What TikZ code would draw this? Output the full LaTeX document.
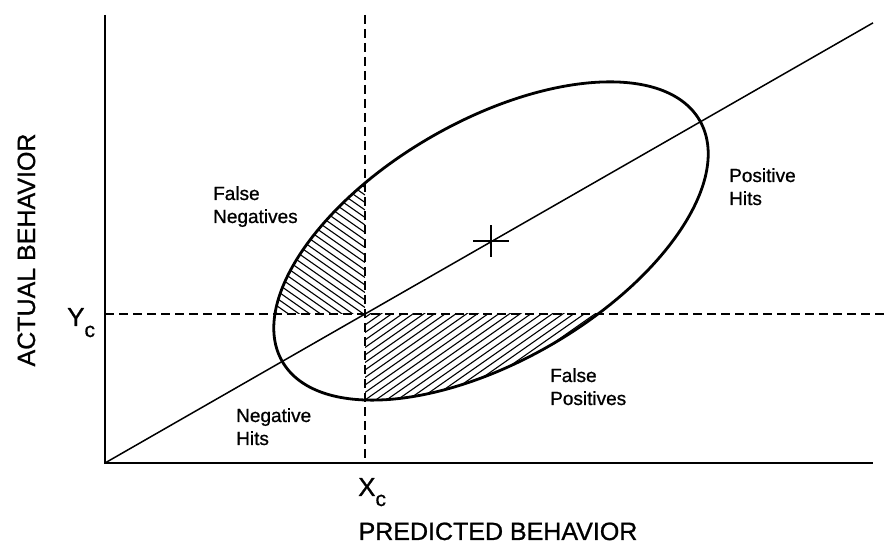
\documentclass[tikz,border=0pt]{standalone}
\usepackage{fontspec}
\setmainfont{Liberation Sans}[FakeBold=0.5]
\newfontfamily\heavysans{Liberation Sans}[FakeBold=0.9]
\usetikzlibrary{calc}
\begin{document}
\begin{tikzpicture}[x=1pt,y=1pt,
  axis/.style={line width=2.3pt},
  cutline/.style={line width=1.7pt, dash pattern=on 9pt off 5pt},
  diag/.style={line width=1.5pt},
  region/.style={line width=2.8pt},
  hatch/.style={line width=1.1pt},
  lbl/.style={inner sep=0pt, anchor=base west, font=\heavysans\fontsize{19}{23}\selectfont},
  axlbl/.style={inner sep=0pt, font=\heavysans\fontsize{25}{25}\selectfont},
  cut/.style={inner sep=0pt, anchor=base west, font=\heavysans\fontsize{26}{26}\selectfont}]
\useasboundingbox (0,0) rectangle (886,545);

% axes and cut-off points
\coordinate (O) at (105,82);
\coordinate (Ytop) at (105,530);
\coordinate (Xend) at (873,82);
\coordinate (C) at (365,231);
\coordinate (Xtop) at (365,530);
\coordinate (Xbot) at (365,82);
\coordinate (Yleft) at (105,231);
\coordinate (Yright) at (886,231);
\coordinate (M) at (491,304);

% hatched areas: false negatives and false positives
\begin{scope}
  \clip[rotate around={30:(M)}] (M) ellipse [x radius=241, y radius=120];
  \clip (200,231) rectangle (365,420);
  \foreach \c in {140,147.5,...,400} {
    \draw[hatch] (200,\c+115.5) -- (365,\c);
  }
\end{scope}
\begin{scope}
  \clip[rotate around={30:(M)}] (M) ellipse [x radius=241, y radius=120];
  \clip (365,100) rectangle (700,231);
  \foreach \c in {40,47.5,...,240} {
    \draw[hatch] (365,\c) -- (700,\c+234.6);
  }
\end{scope}

\draw[axis] (Ytop) -- (O) -- (Xend);
\draw[cutline] (Xtop) -- (Xbot);
\draw[cutline] (Yleft) -- (Yright);
\draw[diag] (O) -- ($(O)!2.954!(C)$);
\draw[region, rotate around={30:(M)}] (M) ellipse [x radius=241, y radius=120];

% centroid mark
\draw[line width=1.8pt] ($(M)+(-18,0)$) -- ($(M)+(18,0)$);
\draw[line width=1.8pt] ($(M)+(0,-16)$) -- ($(M)+(0,16)$);

% quadrant labels
\node[lbl] (fn) at (213,345) {\begin{tabular}[t]{@{}l@{}}False\\Negatives\end{tabular}};
\node[lbl] (ph) at (729,363) {\begin{tabular}[t]{@{}l@{}}Positive\\Hits\end{tabular}};
\node[lbl] (nh) at (236,123) {\begin{tabular}[t]{@{}l@{}}Negative\\Hits\end{tabular}};
\node[lbl] (fp) at (550,163) {\begin{tabular}[t]{@{}l@{}}False\\Positives\end{tabular}};

% cut-off labels
\node[cut] (yc) at (67,219) {Y\raisebox{-11pt}{\fontsize{21}{21}\selectfont c}};
\node[cut] (xc) at (358,49) {X\raisebox{-10pt}{\fontsize{21}{21}\selectfont c}};

% axis titles
\node[axlbl, anchor=base] (px) at (498,5) {PREDICTED BEHAVIOR};
\node[axlbl, anchor=base, rotate=90] (ay) at (35,295) {ACTUAL BEHAVIOR};
\end{tikzpicture}
\end{document}
